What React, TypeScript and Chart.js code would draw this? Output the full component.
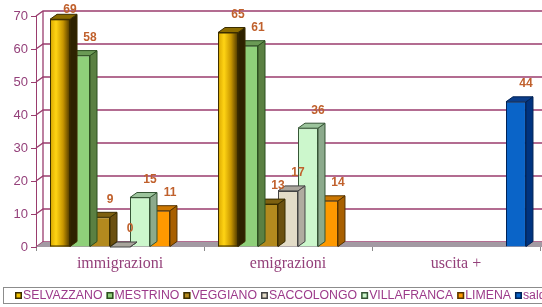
import React, { useEffect, useRef } from 'react';
import { Chart, registerables } from 'chart.js';

Chart.register(...registerables);

// ---------- data ----------
const categories = ['immigrazioni', 'emigrazioni', 'uscita +'];
const seriesNames = ['SELVAZZANO', 'MESTRINO', 'VEGGIANO', 'SACCOLONGO', 'VILLAFRANCA', 'LIMENA', 'saldo'];
const selvazzano = [69, 65, null];
const mestrino = [58, 61, null];
const veggiano = [9, 13, null];
const saccolongo = [0, 17, null];
const villafranca = [15, 36, null];
const limena = [11, 14, null];
const saldo = [null, null, 44];
const yMin = 0;
const yMax = 70;
const yStep = 10;

// ---------- styles ----------
const FRONT = ['#f2c200', '#8fd07a', '#b38a1e', '#e3dcc8', '#ccf7cc', '#ff9900', '#0a64c8'];
const TOP = ['#8b6b00', '#6a9a55', '#7d6010', '#a9a59c', '#9cc49c', '#cc7700', '#0a3d8a'];
const SIDE = ['#2e2200', '#5a8042', '#6b5010', '#b0aca0', '#8caa8c', '#a86000', '#00337f'];
const BORDER = ['#3a2c00', '#2d5020', '#3a2d00', '#444444', '#355535', '#553300', '#002255'];
const PURPLE = '#94407a';
const GRID = '#9a3d6e';
const LABEL = '#c0602c';
const DX = 7;
const DY = 5;

const threeD = {
  id: 'threeD',
  beforeDatasetsDraw(chart: any) {
    const { ctx, chartArea } = chart;
    const y = chart.scales.y;
    const L = chartArea.left;
    const R = chartArea.right;
    const B = y.getPixelForValue(yMin);
    ctx.save();
    // back wall gridlines + diagonals
    ctx.strokeStyle = GRID;
    ctx.lineWidth = 1.3;
    for (let v = yMin; v <= yMax; v += yStep) {
      const py = y.getPixelForValue(v);
      ctx.beginPath();
      ctx.moveTo(L, py);
      ctx.lineTo(L + DX, py - DY);
      ctx.lineTo(R + DX + 40, py - DY);
      ctx.stroke();
    }
    ctx.beginPath();
    ctx.moveTo(L + DX, y.getPixelForValue(yMax) - DY);
    ctx.lineTo(L + DX, B - DY);
    ctx.stroke();
    // floor
    ctx.fillStyle = '#a39aa3';
    ctx.beginPath();
    ctx.moveTo(L, B);
    ctx.lineTo(R + 40, B);
    ctx.lineTo(R + 40 + DX, B - DY);
    ctx.lineTo(L + DX, B - DY);
    ctx.closePath();
    ctx.fill();
    ctx.restore();
  },
  afterDatasetDraw(chart: any, args: any) {
    const { ctx } = chart;
    const idx = args.index;
    const meta = args.meta;
    const values = chart.data.datasets[idx].data;
    ctx.save();
    ctx.lineWidth = 1;
    ctx.strokeStyle = BORDER[idx];
    meta.data.forEach((el: any, i: number) => {
      if (values[i] == null) return;
      const { x, y, base, width } = el.getProps(['x', 'y', 'base', 'width'], true);
      const l = x - width / 2;
      const r = x + width / 2;
      if (idx === 0 && base - y > 0) {
        const g = ctx.createLinearGradient(l, 0, r, 0);
        g.addColorStop(0, '#d8a600');
        g.addColorStop(0.3, '#ffd414');
        g.addColorStop(0.65, '#c89600');
        g.addColorStop(1, '#4a3500');
        ctx.fillStyle = g;
        ctx.fillRect(l, y, width, base - y);
        ctx.strokeRect(l + 0.5, y + 0.5, width - 1, base - y - 1);
      }
      // side
      ctx.fillStyle = SIDE[idx];
      ctx.beginPath();
      ctx.moveTo(r, y);
      ctx.lineTo(r + DX, y - DY);
      ctx.lineTo(r + DX, base - DY);
      ctx.lineTo(r, base);
      ctx.closePath();
      ctx.fill();
      ctx.stroke();
      // top
      ctx.fillStyle = TOP[idx];
      ctx.beginPath();
      ctx.moveTo(l, y);
      ctx.lineTo(l + DX, y - DY);
      ctx.lineTo(r + DX, y - DY);
      ctx.lineTo(r, y);
      ctx.closePath();
      ctx.fill();
      ctx.stroke();
    });
    ctx.restore();
  },
  afterDatasetsDraw(chart: any) {
    const { ctx } = chart;
    ctx.save();
    ctx.font = 'bold 12px "Liberation Sans", Arial, sans-serif';
    ctx.fillStyle = LABEL;
    ctx.textAlign = 'center';
    ctx.textBaseline = 'middle';
    chart.data.datasets.forEach((ds: any, di: number) => {
      const meta = chart.getDatasetMeta(di);
      meta.data.forEach((el: any, i: number) => {
        const v = ds.data[i];
        if (v == null) return;
        const { x, y } = el.getProps(['x', 'y'], true);
        ctx.fillText(String(v), x + 10, Math.max(y - 18, 10));
      });
    });
    ctx.restore();
  },
  afterDraw(chart: any) {
    const { ctx } = chart;
    ctx.save();
    // legend box
    ctx.strokeStyle = '#8c8c8c';
    ctx.lineWidth = 1;
    ctx.strokeRect(3.5, 287.5, 600, 16);
    ctx.font = '12.3px "Liberation Sans", Arial, sans-serif';
    ctx.textBaseline = 'middle';
    ctx.textAlign = 'left';
    let x = 15;
    const cy = 295.5;
    chart.data.datasets.forEach((ds: any, i: number) => {
      ctx.fillStyle = FRONT[i];
      ctx.fillRect(x, cy - 3.5, 7, 7);
      ctx.strokeStyle = BORDER[i];
      ctx.lineWidth = 1.5;
      ctx.strokeRect(x + 0.75, cy - 2.75, 5.5, 5.5);
      ctx.fillStyle = '#9c3a8a';
      ctx.fillText(ds.label, x + 8, cy);
      x += 8 + ctx.measureText(ds.label).width + 4;
    });
    ctx.restore();
  },
};

export default function App() {
  const ref = useRef<HTMLCanvasElement>(null);
  useEffect(() => {
    if (!ref.current) return;
    const series = [selvazzano, mestrino, veggiano, saccolongo, villafranca, limena, saldo];
    const chart = new Chart(ref.current, {
      type: 'bar',
      data: {
        labels: categories,
        datasets: series.map((d, i) => ({
          label: seriesNames[i],
          data: d,
          backgroundColor: FRONT[i],
          borderColor: BORDER[i],
          borderWidth: 1,
          categoryPercentage: 0.833,
          barPercentage: 1,
        })),
      },
      options: {
        animation: false,
        responsive: false,
        devicePixelRatio: 1,
        layout: { padding: { top: 16, right: 2, bottom: 28, left: 0 } },
        plugins: { legend: { display: false }, tooltip: { enabled: false } },
        scales: {
          x: {
            grid: { display: true, drawOnChartArea: false, drawTicks: true, tickLength: 4, color: '#8a8a8a', offset: true },
            border: { display: false },
            ticks: { color: PURPLE, font: { family: '"Liberation Serif", "Times New Roman", serif', size: 16 }, padding: 3, maxRotation: 0 },
            afterFit: (s: any) => { s.height = 32; },
          },
          y: {
            min: yMin,
            max: yMax,
            ticks: { stepSize: yStep, color: PURPLE, font: { family: '"Liberation Sans", Arial, sans-serif', size: 13 }, padding: 3 },
            grid: { drawOnChartArea: false, tickLength: 5, color: GRID },
            border: { display: true, color: GRID, width: 1 },
            afterFit: (s: any) => { s.width = 36; },
          },
        },
      },
      plugins: [threeD],
    } as any);
    return () => chart.destroy();
  }, []);
  return (
    <div style={{ position: 'absolute', left: 0, top: 0, width: 542, height: 307, overflow: 'hidden', background: '#fff' }}>
      <canvas ref={ref} width={542} height={307} style={{ display: 'block' }} />
    </div>
  );
}
